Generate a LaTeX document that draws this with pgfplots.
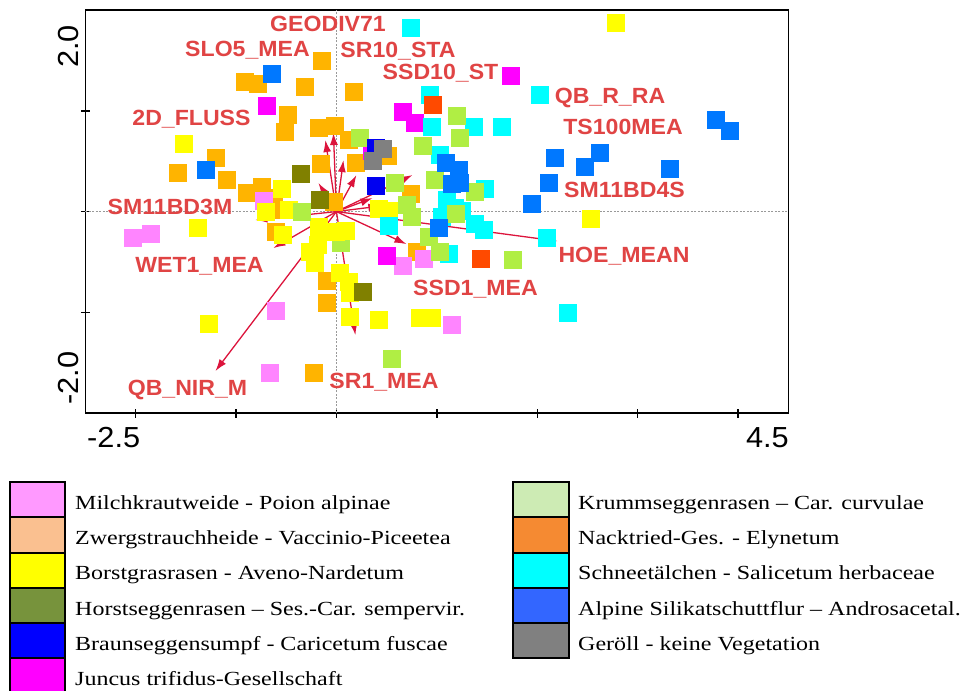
\documentclass[border=0pt]{standalone}
\usepackage{fontspec}
\setmainfont{Liberation Serif}
\newfontfamily\labfont[FakeStretch=1.05]{Liberation Sans}
\newfontfamily\tickfont[FakeStretch=1.06]{Liberation Sans}
\newfontfamily\legfont[FakeStretch=1.2]{Liberation Serif}
\usepackage{pgfplots}
\pgfplotsset{compat=1.18}
\usetikzlibrary{arrows.meta}

% plot colours
\definecolor{cP}{HTML}{FF85FF}
\definecolor{cO}{HTML}{FFB400}
\definecolor{cY}{HTML}{FFFF00}
\definecolor{cH}{HTML}{808000}
\definecolor{cB}{HTML}{0000F0}
\definecolor{cJ}{HTML}{FF00FF}
\definecolor{cK}{HTML}{B0EE44}
\definecolor{cN}{HTML}{FF4A00}
\definecolor{cS}{HTML}{00FFFF}
\definecolor{cA}{HTML}{0078FF}
\definecolor{cG}{HTML}{808080}
% legend colours
\definecolor{lP}{HTML}{FF99FF}
\definecolor{lO}{HTML}{FAC090}
\definecolor{lY}{HTML}{FFFF00}
\definecolor{lH}{HTML}{77933C}
\definecolor{lB}{HTML}{0000FF}
\definecolor{lJ}{HTML}{FF00FF}
\definecolor{lK}{HTML}{CDEBB4}
\definecolor{lN}{HTML}{F58A32}
\definecolor{lS}{HTML}{00FFFF}
\definecolor{lA}{HTML}{3366FF}
\definecolor{lG}{HTML}{808080}
\definecolor{arr}{HTML}{DC143C}
\definecolor{labred}{HTML}{E04444}

\pgfplotsset{
  pts/.style={only marks, mark=square*, mark size=8.5bp, color=#1,
    mark options={fill=#1, draw=#1, line width=0pt}},
  vec/.style={arr, line width=1.3bp, no marks, -{Latex[length=12bp,width=8bp]}},
}

\begin{document}
\begin{tikzpicture}[x=1bp,y=1bp]
\useasboundingbox (0,0) rectangle (962,-691);

\begin{axis}[
  at={(85,-410)}, anchor=south west,
  scale only axis, width=703bp, height=403bp,
  xmin=-2.5, xmax=4.5, ymin=-2, ymax=2,
  xtick={-2,-1,0,1,2,3,4}, ytick={-1,0,1},
  xticklabels={}, yticklabels={},
  xtick pos=bottom, ytick pos=left,
  tick align=center, major tick length=9bp,
  major tick style={black, line width=1.4bp},
  axis line style={black, line width=1.5bp},
  clip=false,
]
\draw[gray!80, line width=0.6bp, dash pattern=on 2bp off 1.5bp] (axis cs:0,-2) -- (axis cs:0,2);
\draw[gray!80, line width=0.6bp, dash pattern=on 2bp off 1.5bp] (axis cs:-2.5,0) -- (axis cs:4.5,0);

\addplot[pts=cO] coordinates {(-0.139,1.494) (-0.906,1.285) (-0.777,1.266) (-0.309,1.236) (0.179,1.186) (-0.478,0.958) (-0.508,0.789) (-0.169,0.829) (-0.010,0.849) (0.129,0.710) (-1.574,0.382) (-1.195,0.531) (-1.086,0.313) (-0.886,0.184) (-0.737,0.243) (-0.618,0.134) (-0.149,0.471) (-0.020,0.094) (0.518,0.551) (0.199,0.481) (0.747,0.174) (-0.578,0.015) (-0.598,-0.203) (-0.090,-0.690) (-0.090,-0.908) (-0.219,-1.603) (0.807,-0.402)};
\addplot[pts=cP] coordinates {(-2.022,-0.263) (-1.843,-0.223) (-0.717,0.104) (-0.598,-0.988) (-0.657,-1.603) (0.667,-0.541) (0.867,-0.471) (1.155,-1.127)};
\addplot[pts=cK] coordinates {(0.050,-0.313)};
\addplot[pts=cY] coordinates {(2.779,1.871) (-1.514,0.670) (-0.538,0.223) (-0.468,0.015) (-0.697,-0.005) (-0.528,-0.233) (-1.375,-0.164) (-0.169,-0.154) (0.000,-0.203) (0.100,-0.194) (-0.259,-0.402) (-0.179,-0.333) (-0.209,-0.511) (0.040,-0.610) (0.129,-0.700) (0.139,-0.809) (0.139,-1.047) (0.428,-1.077) (0.837,-1.057) (0.956,-1.057) (-1.265,-1.117) (0.428,0.025) (0.528,0.005) (2.530,-0.074)};
\addplot[pts=cJ] coordinates {(-0.687,1.047) (1.743,1.345) (0.667,0.988) (0.787,0.878) (0.359,0.600) (0.508,-0.442)};
\addplot[pts=cH] coordinates {(-0.349,0.372) (-0.159,0.114) (0.269,-0.799)};
\addplot[pts=cS] coordinates {(0.747,1.821) (0.936,1.156) (2.022,1.156) (0.956,0.838) (1.365,0.838) (1.653,0.838) (1.036,0.561) (1.484,0.223) (0.528,-0.144) (1.096,0.114) (1.056,-0.055) (1.185,0.035) (1.255,0.005) (1.384,-0.124) (1.474,-0.184) (1.116,-0.422) (2.092,-0.263) (2.301,-1.007)};
\addplot[pts=cK] coordinates {(0.239,0.730) (1.205,0.948) (1.235,0.730) (0.857,0.650) (0.986,0.313) (1.384,0.194) (0.588,0.283) (0.707,0.065) (0.757,-0.055) (-0.339,-0.005) (0.926,-0.253) (1.036,-0.402) (1.763,-0.481) (0.558,-1.464) (1.195,-0.025)};
\addplot[pts=cA] coordinates {(-0.637,1.365) (-1.295,0.412) (1.086,0.481) (1.225,0.412) (1.155,0.273) (1.235,0.283) (1.026,-0.164) (2.181,0.531) (2.629,0.581) (2.470,0.442) (3.317,0.422) (3.775,0.908) (3.914,0.799) (2.112,0.283) (1.952,0.074)};
\addplot[pts=cN] coordinates {(0.966,1.057) (1.444,-0.471)};
\addplot[pts=cB] coordinates {(0.398,0.630) (0.398,0.253)};
\addplot[pts=cG] coordinates {(0.468,0.620) (0.369,0.501)};

% environmental vectors
\addplot[vec] coordinates {(0,0) (-0.030,0.780)};
\addplot[vec] coordinates {(0,0) (-0.110,0.710)};
\addplot[vec] coordinates {(0,0) (0.070,0.511)};
\addplot[vec] coordinates {(0,0) (0.199,0.362)};
\addplot[vec] coordinates {(0,0) (-0.179,0.283)};
\addplot[vec] coordinates {(0,0) (0.757,0.362)};
\addplot[vec] coordinates {(0,0) (0.359,0.134)};
\addplot[vec] coordinates {(0,0) (0.437,0.055)};
\addplot[vec] coordinates {(0,0) (-0.807,-0.084)};
\addplot[vec] coordinates {(0,0) (-0.627,-0.362)};
\addplot[vec] coordinates {(0,0) (-1.205,-1.583)};
\addplot[vec] coordinates {(0,0) (0.189,-1.226)};
\addplot[vec] coordinates {(0,0) (0.697,-0.323)};
\addplot[vec] coordinates {(0,0) (2.201,-0.293)};
\end{axis}

% variable labels
\begin{scope}[every node/.style={labred, anchor=base, inner sep=0pt,
   font=\labfont\bfseries\fontsize{22bp}{26bp}\selectfont}]
\node at (328,-31.5) {GEODIV71};
\node at (247.5,-57) {SLO5\_MEA};
\node at (398,-57.3) {SR10\_STA};
\node at (440.5,-79.3) {SSD10\_ST};
\node at (191.5,-126) {2D\_FLUSS};
\node at (610,-104) {QB\_R\_RA};
\node at (623,-135) {TS100MEA};
\node at (624.5,-197.3) {SM11BD4S};
\node at (170,-214) {SM11BD3M};
\node at (199.5,-272.7) {WET1\_MEA};
\node at (187.5,-395) {QB\_NIR\_M};
\node at (384,-388.3) {SR1\_MEA};
\node at (475.5,-295) {SSD1\_MEA};
\node at (624,-262.7) {HOE\_MEAN};
\end{scope}

% axis end labels
\begin{scope}[every node/.style={inner sep=0pt, font=\tickfont\fontsize{29bp}{32bp}\selectfont}]
\node[anchor=north west] at (87,-427) {-2.5};
\node[anchor=north east] at (789,-427) {4.5};
\node[rotate=90, anchor=south east] at (79,-25) {2.0};
\node[rotate=90, anchor=south west] at (79,-405) {-2.0};
\end{scope}

% legend
\foreach \i/\c/\t in {0/lP/{Milchkrautweide - Poion alpinae},
  1/lO/{Zwergstrauchheide - Vaccinio-Piceetea},
  2/lY/{Borstgrasrasen - Aveno-Nardetum},
  3/lH/{Horstseggenrasen – Ses.-Car. sempervir.},
  4/lB/{Braunseggensumpf - Caricetum fuscae},
  5/lJ/{Juncus trifidus-Gesellschaft}} {
  \pgfmathsetmacro\yt{-(482+35.25*\i)}
  \pgfmathsetmacro\yb{\yt-35.25}
  \pgfmathsetmacro\yl{\yt-27.3}
  \filldraw[fill=\c, draw=black, line width=2bp] (10,\yt) rectangle (65,\yb);
  \node[anchor=base west, inner sep=0pt, font=\legfont\fontsize{20bp}{24bp}\selectfont] at (75,\yl) {\t};
}
\foreach \i/\c/\t in {0/lK/{Krummseggenrasen – Car. curvulae},
  1/lN/{Nacktried-Ges. - Elynetum},
  2/lS/{Schneetälchen - Salicetum herbaceae},
  3/lA/{Alpine Silikatschuttflur – Androsacetal.},
  4/lG/{Geröll - keine Vegetation}} {
  \pgfmathsetmacro\yt{-(482+35.25*\i)}
  \pgfmathsetmacro\yb{\yt-35.25}
  \pgfmathsetmacro\yl{\yt-27.3}
  \filldraw[fill=\c, draw=black, line width=2bp] (513,\yt) rectangle (569,\yb);
  \node[anchor=base west, inner sep=0pt, font=\legfont\fontsize{20bp}{24bp}\selectfont] at (578,\yl) {\t};
}
\end{tikzpicture}
\end{document}
